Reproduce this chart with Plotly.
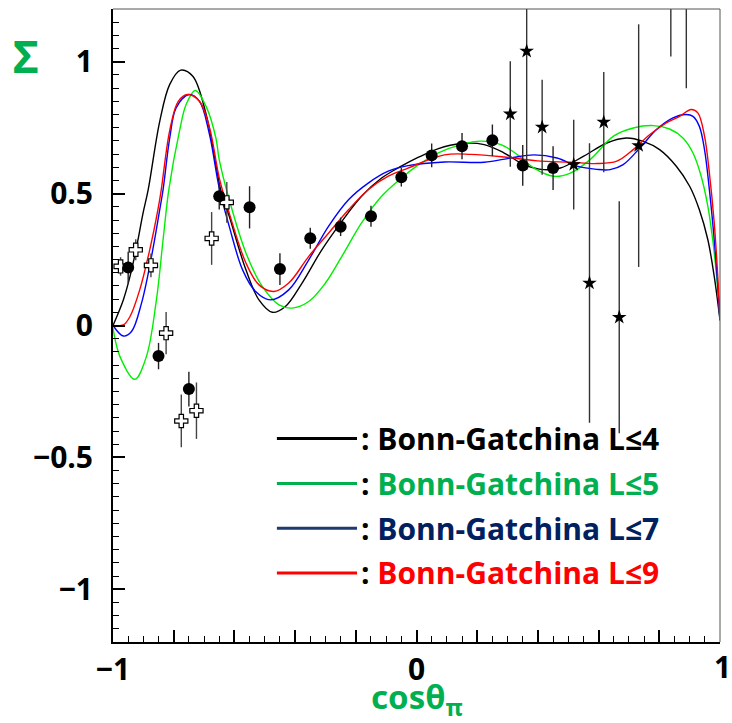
import plotly.graph_objects as go

# ---------------- data ----------------
# Bonn-Gatchina curves
bg4_x = [-1.0, -0.966, -0.944, -0.922, -0.901, -0.884, -0.846, -0.813, -0.777, -0.737, -0.693, -0.661,
         -0.644, -0.617, -0.562, -0.519, -0.475, -0.432, -0.377, -0.312, -0.246, -0.181, -0.115, -0.050,
         0.005, 0.070, 0.147, 0.223, 0.289, 0.354, 0.420, 0.474, 0.551, 0.627, 0.692, 0.747, 0.801,
         0.856, 0.900, 0.932, 0.960, 0.981, 1.0]
bg4_y = [0.0, 0.097, 0.186, 0.300, 0.426, 0.515, 0.774, 0.914, 0.968, 0.945, 0.800, 0.610,
         0.509, 0.414, 0.211, 0.097, 0.050, 0.072, 0.161, 0.287, 0.395, 0.490, 0.559, 0.604,
         0.637, 0.670, 0.690, 0.686, 0.654, 0.610, 0.591, 0.597, 0.642, 0.692, 0.711, 0.698, 0.667,
         0.604, 0.528, 0.439, 0.325, 0.186, 0.02]

bg5_x = [-1.0, -0.977, -0.928, -0.890, -0.857, -0.835, -0.816, -0.781, -0.759, -0.729, -0.693, -0.661,
         -0.650, -0.617, -0.562, -0.508, -0.453, -0.410, -0.355, -0.300, -0.246, -0.181, -0.115, -0.050,
         0.005, 0.070, 0.147, 0.212, 0.278, 0.332, 0.387, 0.452, 0.507, 0.572, 0.649, 0.714, 0.780,
         0.834, 0.878, 0.911, 0.938, 0.960, 0.976, 0.989, 1.0]
bg5_y = [-0.01, -0.118, -0.204, -0.118, 0.097, 0.325, 0.515, 0.737, 0.838, 0.891, 0.830, 0.711,
         0.629, 0.477, 0.275, 0.148, 0.078, 0.066, 0.091, 0.161, 0.262, 0.389, 0.490, 0.559,
         0.608, 0.654, 0.686, 0.699, 0.686, 0.648, 0.597, 0.566, 0.578, 0.629, 0.718, 0.749, 0.758,
         0.745, 0.711, 0.654, 0.566, 0.452, 0.325, 0.186, 0.03]

bg7_x = [-1.0, -0.966, -0.939, -0.906, -0.873, -0.846, -0.835, -0.813, -0.792, -0.750, -0.715, -0.682,
         -0.650, -0.617, -0.573, -0.530, -0.481, -0.421, -0.355, -0.290, -0.224, -0.159, -0.093, -0.028,
         0.092, 0.223, 0.310, 0.387, 0.463, 0.529, 0.594, 0.638, 0.681, 0.736, 0.791, 0.845, 0.889,
         0.911, 0.932, 0.949, 0.965, 0.981, 0.992, 1.0]
bg7_y = [0.0, -0.040, -0.023, 0.085, 0.262, 0.439, 0.515, 0.711, 0.825, 0.876, 0.850, 0.724,
         0.521, 0.376, 0.211, 0.129, 0.097, 0.135, 0.249, 0.376, 0.477, 0.540, 0.585, 0.606,
         0.620, 0.619, 0.635, 0.647, 0.635, 0.604, 0.592, 0.591, 0.610, 0.673, 0.743, 0.787, 0.800,
         0.793, 0.755, 0.667, 0.515, 0.325, 0.16, 0.02]

bg9_x = [-1.0, -0.966, -0.944, -0.912, -0.879, -0.852, -0.841, -0.813, -0.785, -0.754, -0.715, -0.682,
         -0.650, -0.617, -0.562, -0.519, -0.470, -0.421, -0.355, -0.290, -0.224, -0.159, -0.093, -0.028,
         0.092, 0.180, 0.289, 0.398, 0.507, 0.594, 0.660, 0.714, 0.769, 0.823, 0.867, 0.905, 0.927,
         0.949, 0.965, 0.981, 0.992, 1.0]
bg9_y = [0.0, 0.002, 0.034, 0.135, 0.287, 0.439, 0.515, 0.740, 0.850, 0.876, 0.850, 0.750,
         0.560, 0.426, 0.237, 0.154, 0.129, 0.161, 0.262, 0.350, 0.439, 0.515, 0.566, 0.597,
         0.647, 0.649, 0.639, 0.624, 0.619, 0.614, 0.623, 0.667, 0.724, 0.768, 0.793, 0.819, 0.806,
         0.718, 0.578, 0.389, 0.199, 0.02]

# data sets
dots_x = [-0.95, -0.85, -0.75, -0.65, -0.55, -0.45, -0.35, -0.25, -0.15, -0.05, 0.05, 0.15, 0.25, 0.35, 0.45]
dots_y = [0.220, -0.116, -0.241, 0.490, 0.448, 0.214, 0.331, 0.374, 0.414, 0.562, 0.645, 0.680, 0.702, 0.607, 0.597]
dots_e = [0.06, 0.05, 0.066, 0.05, 0.08, 0.06, 0.04, 0.035, 0.04, 0.035, 0.045, 0.05, 0.06, 0.077, 0.083]

cross_x = [-0.975, -0.925, -0.875, -0.825, -0.775, -0.725, -0.675, -0.625]
cross_y = [0.224, 0.287, 0.228, -0.029, -0.362, -0.323, 0.330, 0.467]
cross_e = [0.035, 0.04, 0.045, 0.08, 0.1, 0.107, 0.1, 0.077]

star_x = [0.309, 0.363, 0.414, 0.518, 0.570, 0.617, 0.668, 0.732, 0.838, 0.889]
star_y = [0.802, 1.040, 0.752, 0.610, 0.161, 0.771, 0.031, 0.682, 1.45, 1.45]
star_e = [0.20, 0.45, 0.18, 0.17, 0.53, 0.19, 0.44, 0.46, 0.43, 0.55]

legend_labels = ["Bonn-Gatchina L≤4", "Bonn-Gatchina L≤5", "Bonn-Gatchina L≤7", "Bonn-Gatchina L≤9"]
legend_text_colors = ["#000000", "#00b050", "#002060", "#ff0000"]
legend_line_colors = ["#000000", "#00b050", "#1f3a6e", "#ff0000"]
curve_colors = ["#000000", "#00ee00", "#0000ff", "#ff0000"]

x_tickvals = [-1, -0.8, -0.6, -0.4, -0.2, 0, 0.2, 0.4, 0.6, 0.8, 1]
x_ticktext = ["−1", " ", " ", " ", " ", "0", " ", " ", " ", " ", " "]
x_last_label = "1"
y_tickvals = [-1, -0.5, 0, 0.5, 1]
y_ticktext = ["−1", "−0.5", "0", "0.5", "1"]

# ---------------- figure ----------------
fig = go.Figure()

curves = [(bg4_x, bg4_y), (bg5_x, bg5_y), (bg7_x, bg7_y), (bg9_x, bg9_y)]
for (cx, cy), col in zip(curves, curve_colors):
    fig.add_trace(go.Scatter(x=cx, y=cy, mode="lines",
                             line=dict(color=col, width=1.4, shape="spline", smoothing=1.0),
                             showlegend=False, hoverinfo="skip"))

fig.add_trace(go.Scatter(x=star_x, y=star_y, mode="markers",
                         marker=dict(symbol="star", size=11, color="black"),
                         error_y=dict(type="data", array=star_e, color="#333333", thickness=1.4, width=0),
                         showlegend=False))
fig.add_trace(go.Scatter(x=cross_x, y=cross_y, mode="markers",
                         marker=dict(symbol="cross", size=11, color="white",
                                     line=dict(color="black", width=1.2)),
                         error_y=dict(type="data", array=cross_e, color="#444444", thickness=1.4, width=0),
                         showlegend=False))
fig.add_trace(go.Scatter(x=dots_x, y=dots_y, mode="markers",
                         marker=dict(symbol="circle", size=12, color="black"),
                         error_y=dict(type="data", array=dots_e, color="#222222", thickness=1.4, width=0),
                         showlegend=False))

FONT = "Open Sans, Lato, sans-serif"
tickfont = dict(family=FONT, size=30, color="black", weight="bold")

fig.update_layout(
    width=732, height=723,
    margin=dict(l=113, r=8, t=9, b=81),
    paper_bgcolor="white", plot_bgcolor="white",
    xaxis=dict(range=[-1, 1], showgrid=False, zeroline=False,
               showline=True, linecolor="black", linewidth=2,
               ticks="inside", ticklen=12, tickwidth=1.5, tickcolor="black",
               tickmode="array", tickvals=x_tickvals, ticktext=x_ticktext,
               tickfont=tickfont, ticklabelstandoff=0,
               minor=dict(dtick=0.05, ticks="inside", ticklen=6, tickwidth=1, tickcolor="black", showgrid=False)),
    yaxis=dict(range=[-1.2, 1.2], showgrid=False, zeroline=False,
               showline=True, linecolor="black", linewidth=2,
               ticks="inside", ticklen=12, tickwidth=1.5, tickcolor="black",
               tickmode="array", tickvals=y_tickvals, ticktext=y_ticktext,
               tickfont=tickfont, ticklabelstandoff=12,
               minor=dict(dtick=0.05, ticks="inside", ticklen=6, tickwidth=1, tickcolor="black", showgrid=False)),
    showlegend=False,
)

# last x tick label (right edge, at the page border as in the reference)
fig.add_annotation(xref="paper", yref="paper", x=1.022, y=-0.003, xanchor="right", yanchor="top",
                   showarrow=False, text=x_last_label, font=tickfont)

# frame top/right
fig.add_shape(type="line", xref="paper", yref="paper", x0=0, x1=1, y0=1, y1=1,
              line=dict(color="#555555", width=1))
fig.add_shape(type="line", xref="paper", yref="paper", x0=1, x1=1, y0=0, y1=1,
              line=dict(color="#555555", width=1))

# legend
leg_y = [0.3216, 0.2505, 0.1798, 0.1091]
for lab, tcol, lcol, ly in zip(legend_labels, legend_text_colors, legend_line_colors, leg_y):
    fig.add_shape(type="line", xref="paper", yref="paper", x0=0.270, x1=0.402, y0=ly, y1=ly,
                  line=dict(color=lcol, width=3))
    fig.add_annotation(xref="paper", yref="paper", x=0.405, y=ly, xanchor="left", yanchor="middle",
                       showarrow=False,
                       text=f"<span style='color:black'>: </span><span style='color:{tcol}'>{lab}</span>",
                       font=dict(family=FONT, size=30, weight="bold", color=tcol))

# axis titles
fig.add_annotation(xref="paper", yref="paper", x=-0.144, y=0.926, xanchor="center", yanchor="middle",
                   showarrow=False, text="Σ",
                   font=dict(family="Noto Sans, Open Sans, sans-serif", size=44, weight="bold", color="#00b050"))
fig.add_annotation(xref="x", yref="paper", x=0, y=-0.048, xanchor="center", yanchor="top",
                   showarrow=False, text="cosθ<sub>π</sub>",
                   font=dict(family="Noto Sans, Open Sans, sans-serif", size=33, weight="bold", color="#00b050"))

fig.write_html("out.html")
